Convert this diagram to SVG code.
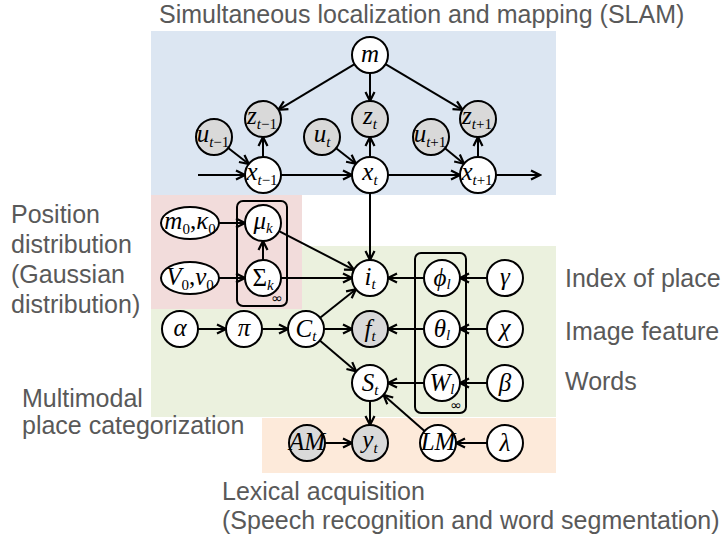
<svg xmlns="http://www.w3.org/2000/svg" width="727" height="539" viewBox="0 0 727 539">
<style>
.lbl{font-family:"Liberation Sans",Arial,sans-serif;font-size:25px;fill:#595959}
.n circle,.n ellipse{fill:#fff;stroke:#000;stroke-width:2}
.obs circle{fill:#d9d9d9}
.t{font-family:"Liberation Serif","Times New Roman",serif;font-style:italic;font-size:25px;text-anchor:middle;fill:#000}
.s{font-size:15px}
.u{font-style:normal}
.plate{fill:none;stroke:#000;stroke-width:2}
.inf{font-family:"DejaVu Sans",sans-serif;font-size:14px;text-anchor:middle}
#connectors line{stroke:#000;stroke-width:2;marker-end:url(#a)}
</style>
<defs>
<marker id="a" markerUnits="userSpaceOnUse" markerWidth="12" markerHeight="12" refX="10.5" refY="6" orient="auto">
<path d="M1.5,1.5 L10.5,6 L1.5,10.5" fill="none" stroke="#000" stroke-width="2.2"/>
</marker>
</defs>
<g id="backgrounds">
<rect x="151" y="31" width="405" height="164" fill="#dce6f2"/>
<rect x="151" y="246" width="405" height="171" fill="#ebf1de"/>
<rect x="151" y="195" width="151" height="114" fill="#f2dcdb"/>
<rect x="262" y="418" width="294" height="55" fill="#fdeada"/>
</g>
<g id="labels">
<text class="lbl" x="159" y="23">Simultaneous localization and mapping (SLAM)</text>
<text class="lbl" x="11" y="223">Position</text>
<text class="lbl" x="11" y="253">distribution</text>
<text class="lbl" x="11" y="283">(Gaussian</text>
<text class="lbl" x="11" y="313">distribution)</text>
<text class="lbl" x="22" y="407">Multimodal</text>
<text class="lbl" x="22" y="434">place categorization</text>
<text class="lbl" x="565" y="287">Index of place</text>
<text class="lbl" x="565" y="340">Image feature</text>
<text class="lbl" x="565" y="390">Words</text>
<text class="lbl" x="222" y="500">Lexical acquisition</text>
<text class="lbl" x="222" y="529">(Speech recognition and word segmentation)</text>
</g>
<g id="plates">
<rect class="plate" x="237" y="201" width="50" height="105" rx="6"/>
<text class="inf" x="277" y="303">∞</text>
<rect class="plate" x="415" y="253" width="51" height="160" rx="6"/>
<text class="inf" x="456" y="410">∞</text>
</g>
<g id="connectors">
<line x1="354.6" y1="64.2" x2="278.4" y2="109.8"/>
<line x1="370" y1="73" x2="370" y2="101"/>
<line x1="385.5" y1="64.2" x2="462.5" y2="109.8"/>
<line x1="263" y1="157" x2="263" y2="137"/>
<line x1="370" y1="157" x2="370" y2="137"/>
<line x1="478" y1="157" x2="478" y2="137"/>
<line x1="228.2" y1="148" x2="248.8" y2="164"/>
<line x1="336.1" y1="148.2" x2="355.9" y2="163.8"/>
<line x1="445" y1="148.3" x2="464" y2="163.7"/>
<line x1="198" y1="175" x2="245" y2="175"/>
<line x1="281" y1="175" x2="352" y2="175"/>
<line x1="388" y1="175" x2="460" y2="175"/>
<line x1="496" y1="175" x2="540" y2="175"/>
<line x1="370" y1="193" x2="370" y2="260"/>
<line x1="219" y1="223" x2="245" y2="223"/>
<line x1="219" y1="278" x2="245" y2="278"/>
<line x1="263" y1="260" x2="263" y2="241"/>
<line x1="279" y1="231.2" x2="354" y2="269.8"/>
<line x1="281" y1="278" x2="352" y2="278"/>
<line x1="424" y1="278" x2="388" y2="278"/>
<line x1="487" y1="278" x2="460" y2="278"/>
<line x1="198" y1="329" x2="226" y2="329"/>
<line x1="262" y1="329" x2="288" y2="329"/>
<line x1="320.1" y1="317.8" x2="355.9" y2="289.2"/>
<line x1="324" y1="329" x2="352" y2="329"/>
<line x1="319.8" y1="340.6" x2="356.2" y2="371.4"/>
<line x1="424" y1="329" x2="388" y2="329"/>
<line x1="487" y1="329" x2="460" y2="329"/>
<line x1="424" y1="383" x2="388" y2="383"/>
<line x1="487" y1="383" x2="460" y2="383"/>
<line x1="370" y1="401" x2="370" y2="425"/>
<line x1="325" y1="443" x2="352" y2="443"/>
<line x1="424.5" y1="431.1" x2="383.5" y2="394.9"/>
<line x1="487" y1="443" x2="456" y2="443"/>
</g>
<g id="node-m" class="n"><circle cx="370" cy="55" r="18"/><text class="t" x="370" y="62">m</text></g>
<g id="node-z-tm1" class="n obs"><circle cx="263" cy="119" r="18"/><text class="t" x="262" y="124">z<tspan class="s" dy="5">t<tspan class="u">−1</tspan></tspan></text></g>
<g id="node-z-t" class="n obs"><circle cx="370" cy="119" r="18"/><text class="t" x="370" y="124">z<tspan class="s" dy="5">t</tspan></text></g>
<g id="node-z-tp1" class="n obs"><circle cx="478" cy="119" r="18"/><text class="t" x="477" y="124">z<tspan class="s" dy="5">t<tspan class="u">+1</tspan></tspan></text></g>
<g id="node-u-tm1" class="n obs"><circle cx="214" cy="137" r="18"/><text class="t" x="213" y="142">u<tspan class="s" dy="5">t<tspan class="u">−1</tspan></tspan></text></g>
<g id="node-u-t" class="n obs"><circle cx="322" cy="137" r="18"/><text class="t" x="322" y="142">u<tspan class="s" dy="5">t</tspan></text></g>
<g id="node-u-tp1" class="n obs"><circle cx="431" cy="137" r="18"/><text class="t" x="430" y="142">u<tspan class="s" dy="5">t<tspan class="u">+1</tspan></tspan></text></g>
<g id="node-x-tm1" class="n"><circle cx="263" cy="175" r="18"/><text class="t" x="262" y="180">x<tspan class="s" dy="5">t<tspan class="u">−1</tspan></tspan></text></g>
<g id="node-x-t" class="n"><circle cx="370" cy="175" r="18"/><text class="t" x="370" y="180">x<tspan class="s" dy="5">t</tspan></text></g>
<g id="node-x-tp1" class="n"><circle cx="478" cy="175" r="18"/><text class="t" x="477" y="180">x<tspan class="s" dy="5">t<tspan class="u">+1</tspan></tspan></text></g>
<g id="node-m0k0" class="n"><ellipse cx="190" cy="223" rx="29" ry="16"/><text class="t" x="190" y="229" font-size="23">m<tspan class="s u" dy="5">0</tspan><tspan class="u" dy="-5">,</tspan>κ<tspan class="s u" dy="5">0</tspan></text></g>
<g id="node-V0n0" class="n"><ellipse cx="190" cy="278" rx="29" ry="16"/><text class="t" x="190" y="285" font-size="23">V<tspan class="s u" dy="5">0</tspan><tspan class="u" dy="-5">,</tspan>ν<tspan class="s u" dy="5">0</tspan></text></g>
<g id="node-mu-k" class="n"><circle cx="263" cy="223" r="18"/><text class="t" x="263" y="229">μ<tspan class="s" dy="4">k</tspan></text></g>
<g id="node-Sigma-k" class="n"><circle cx="263" cy="278" r="18"/><text class="t" x="263" y="286"><tspan class="u">Σ</tspan><tspan class="s" dy="4">k</tspan></text></g>
<g id="node-i-t" class="n"><circle cx="370" cy="278" r="18"/><text class="t" x="370" y="285">i<tspan class="s" dy="4">t</tspan></text></g>
<g id="node-phi-l" class="n"><circle cx="442" cy="278" r="18"/><text class="t" x="442" y="286">ϕ<tspan class="s" dy="3">l</tspan></text></g>
<g id="node-gamma" class="n"><circle cx="505" cy="278" r="18"/><text class="t" x="505" y="285">γ</text></g>
<g id="node-alpha" class="n"><circle cx="180" cy="329" r="18"/><text class="t" x="180" y="336">α</text></g>
<g id="node-pi" class="n"><circle cx="244" cy="329" r="18"/><text class="t" x="244" y="336">π</text></g>
<g id="node-C-t" class="n"><circle cx="306" cy="329" r="18"/><text class="t" x="306" y="337">C<tspan class="s" dy="4">t</tspan></text></g>
<g id="node-f-t" class="n obs"><circle cx="370" cy="329" r="18"/><text class="t" x="370" y="337">f<tspan class="s" dy="4">t</tspan></text></g>
<g id="node-theta-l" class="n"><circle cx="442" cy="329" r="18"/><text class="t" x="442" y="337">θ<tspan class="s" dy="3">l</tspan></text></g>
<g id="node-chi" class="n"><circle cx="505" cy="329" r="18"/><text class="t" x="505" y="336">χ</text></g>
<g id="node-S-t" class="n"><circle cx="370" cy="383" r="18"/><text class="t" x="370" y="391">S<tspan class="s" dy="4">t</tspan></text></g>
<g id="node-W-l" class="n"><circle cx="442" cy="383" r="18"/><text class="t" x="442" y="391" font-size="23">W<tspan class="s" dy="3">l</tspan></text></g>
<g id="node-beta" class="n"><circle cx="505" cy="383" r="18"/><text class="t" x="505" y="391">β</text></g>
<g id="node-AM" class="n obs"><circle cx="307" cy="443" r="18"/><text class="t" x="307" y="450" font-size="20">AM</text></g>
<g id="node-y-t" class="n obs"><circle cx="370" cy="443" r="18"/><text class="t" x="370" y="448">y<tspan class="s" dy="5">t</tspan></text></g>
<g id="node-LM" class="n"><circle cx="438" cy="443" r="18"/><text class="t" x="438" y="450" font-size="20">LM</text></g>
<g id="node-lambda" class="n"><circle cx="505" cy="443" r="18"/><text class="t" x="505" y="451">λ</text></g>
</svg>
